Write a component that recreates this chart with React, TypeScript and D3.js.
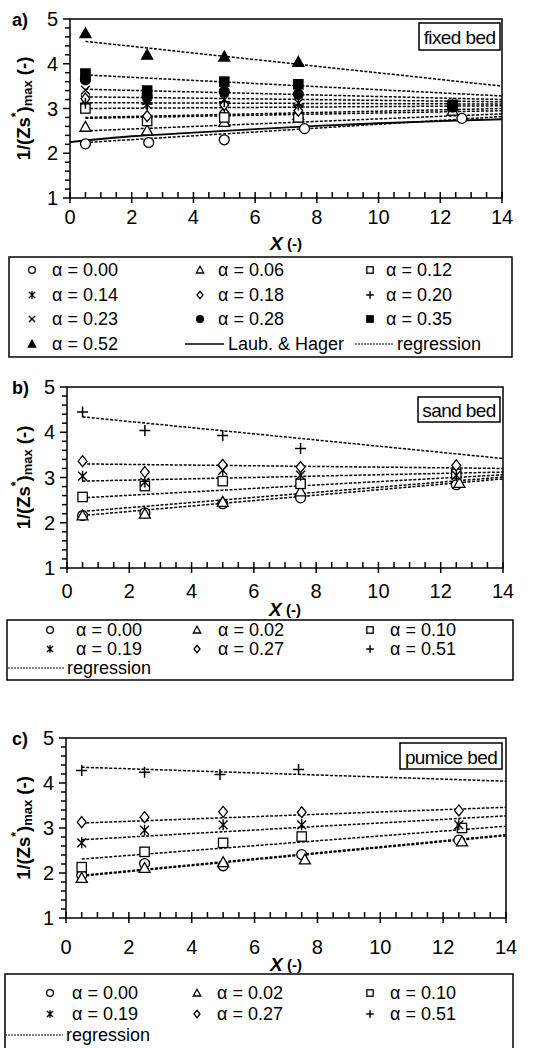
import React from "react";
import * as d3 from "d3";

// ---- data ----
// a) fixed bed
const fixedAlphas = ["0.00", "0.06", "0.12", "0.14", "0.18", "0.20", "0.23", "0.28", "0.35", "0.52"];
const fixedX = [
  [0.5, 2.55, 5, 7.6, 12.7],
  [0.5, 2.5, 5, 7.4, 12.4],
  [0.5, 2.5, 5, 7.4, 12.4],
  [0.5, 2.5, 5, 7.4, 12.4],
  [0.5, 2.5, 5, 7.4],
  [0.5, 2.5, 5, 7.4, 12.4],
  [0.5, 2.5, 5, 7.4],
  [0.5, 2.5, 5, 7.4, 12.4],
  [0.5, 2.5, 5, 7.4, 12.4],
  [0.5, 2.5, 5, 7.4],
];
const fixedY = [
  [2.21, 2.24, 2.3, 2.55, 2.78],
  [2.59, 2.51, 2.7, 2.85, 2.95],
  [3.0, 2.72, 2.8, 2.8, 3.05],
  [3.19, 3.09, 3.02, 2.97, 3.1],
  [3.22, 2.83, 3.08, 2.95],
  [3.12, 3.1, 3.15, 3.08, 3.05],
  [3.41, 3.18, 3.2, 3.12],
  [3.64, 3.27, 3.38, 3.32, 3.03],
  [3.78, 3.4, 3.6, 3.54, 3.08],
  [4.68, 4.2, 4.16, 4.04],
];
const fixedRegStart = [2.24, 2.5, 2.78, 2.8, 3.0, 3.13, 3.26, 3.43, 3.75, 4.5];
const fixedRegEnd = [2.82, 2.88, 2.95, 3.0, 3.06, 3.1, 3.15, 3.2, 3.28, 3.5];
const laubX = [0, 2, 4, 6, 8, 10, 12, 14];
const laubY = [2.25, 2.38, 2.46, 2.54, 2.61, 2.67, 2.72, 2.76];

// b) sand bed
const sandAlphas = ["0.00", "0.02", "0.10", "0.19", "0.27", "0.51"];
const sandX = [
  [0.5, 2.5, 5, 7.5, 12.5],
  [0.5, 2.5, 5, 7.5, 12.6],
  [0.5, 2.5, 5, 7.5, 12.5],
  [0.5, 2.5, 5, 7.5, 12.5],
  [0.5, 2.5, 5, 7.5, 12.5],
  [0.5, 2.5, 5, 7.5],
];
const sandY = [
  [2.16, 2.22, 2.42, 2.55, 2.84],
  [2.16, 2.2, 2.46, 2.69, 2.88],
  [2.57, 2.81, 2.92, 2.86, 3.08],
  [3.03, 2.9, 3.16, 3.05, 3.05],
  [3.36, 3.12, 3.28, 3.23, 3.27],
  [4.45, 4.04, 3.93, 3.64],
];
const sandRegStart = [2.16, 2.25, 2.55, 2.92, 3.3, 4.34];
const sandRegEnd = [2.97, 3.01, 3.06, 3.12, 3.2, 3.42];

// c) pumice bed
const pumiceAlphas = ["0.00", "0.02", "0.10", "0.19", "0.27", "0.51"];
const pumiceX = [
  [0.5, 2.5, 5, 7.5, 12.5],
  [0.5, 2.5, 5, 7.6, 12.6],
  [0.5, 2.5, 5, 7.5, 12.6],
  [0.5, 2.5, 5, 7.5, 12.5],
  [0.5, 2.5, 5, 7.5, 12.5],
  [0.5, 2.5, 4.9, 7.4],
];
const pumiceY = [
  [1.95, 2.21, 2.16, 2.41, 2.73],
  [1.89, 2.11, 2.24, 2.3, 2.7],
  [2.13, 2.47, 2.67, 2.81, 3.0],
  [2.67, 2.95, 3.07, 3.07, 3.07],
  [3.13, 3.24, 3.36, 3.35, 3.39],
  [4.28, 4.24, 4.19, 4.3],
];
const pumiceRegStart = [1.95, 1.93, 2.31, 2.74, 3.11, 4.35];
const pumiceRegEnd = [2.85, 2.83, 3.04, 3.27, 3.46, 4.04];

const xTicks = [0, 2, 4, 6, 8, 10, 12, 14];
const yTicks = [1, 2, 3, 4, 5];

// ---- styling ----
const FONT = "'Liberation Sans', Arial, sans-serif";
const fixedMarkers = ["circle", "triangle", "square", "asterisk", "diamond", "plus", "cross", "circleF", "squareF", "triangleF"];
const bedMarkers = ["circle", "triangle", "square", "asterisk", "diamond", "plus"];

function Marker({ type, x, y, s }: { type: string; x: number; y: number; s: number }) {
  const h = s / 2;
  const sw = 1.3;
  const filled = type.endsWith("F");
  const fill = filled ? "#000" : "#fff";
  if (type.startsWith("circle")) return <circle cx={x} cy={y} r={h * 0.9} fill={fill} stroke="#000" strokeWidth={sw} />;
  if (type.startsWith("square"))
    return <rect x={x - h * 0.85} y={y - h * 0.85} width={h * 1.7} height={h * 1.7} fill={fill} stroke="#000" strokeWidth={sw} />;
  if (type.startsWith("triangle"))
    return (
      <path d={`M${x},${y - h}L${x + h},${y + h * 0.8}L${x - h},${y + h * 0.8}Z`} fill={fill} stroke="#000" strokeWidth={sw} />
    );
  if (type === "diamond")
    return <path d={`M${x},${y - h}L${x + h * 0.8},${y}L${x},${y + h}L${x - h * 0.8},${y}Z`} fill="#fff" stroke="#000" strokeWidth={sw} />;
  if (type === "plus")
    return <path d={`M${x - h},${y}H${x + h}M${x},${y - h}V${y + h}`} stroke="#000" strokeWidth={1.5} />;
  if (type === "cross")
    return <path d={`M${x - h * 0.8},${y - h * 0.8}L${x + h * 0.8},${y + h * 0.8}M${x + h * 0.8},${y - h * 0.8}L${x - h * 0.8},${y + h * 0.8}`} stroke="#000" strokeWidth={1.4} />;
  // asterisk
  return (
    <path
      d={`M${x - h * 0.8},${y - h * 0.8}L${x + h * 0.8},${y + h * 0.8}M${x + h * 0.8},${y - h * 0.8}L${x - h * 0.8},${y + h * 0.8}M${x},${y - h}V${y + h}`}
      stroke="#000"
      strokeWidth={1.4}
    />
  );
}

type PanelProps = {
  left: number;
  right: number;
  top: number;
  bottom: number;
  letter: string;
  bed: string;
  bedBox: [number, number, number, number];
  xs: number[][];
  ys: number[][];
  regStart: number[];
  regEnd: number[];
  markers: string[];
  tickDy: number;
  labelDy: number;
  laub?: boolean;
};

function Panel(p: PanelProps) {
  const x = d3.scaleLinear().domain([0, 14]).range([p.left, p.right]);
  const y = d3.scaleLinear().domain([1, 5]).range([p.bottom, p.top]);
  const line = d3
    .line<[number, number]>()
    .x((d) => x(d[0]))
    .y((d) => y(d[1]));
  const laubLine = d3
    .line<[number, number]>()
    .x((d) => x(d[0]))
    .y((d) => y(d[1]))
    .curve(d3.curveMonotoneX);
  const xMinor = d3.range(0, 14.01, 0.5);
  const yMinor = d3.range(1, 5.01, 0.2);
  const midY = (p.top + p.bottom) / 2;
  const midX = (p.left + p.right) / 2;
  return (
    <g>
      {/* regression lines */}
      {p.regStart.map((s, i) => (
        <path
          key={"r" + i}
          d={line([
            [0.5, s],
            [14, p.regEnd[i]],
          ]) as string}
          fill="none"
          stroke="#000"
          strokeWidth={1.5}
          strokeDasharray="3 1.6"
        />
      ))}
      {p.laub && (
        <path
          d={laubLine(laubX.map((v, i) => [v, laubY[i]] as [number, number])) as string}
          fill="none"
          stroke="#000"
          strokeWidth={1.8}
        />
      )}
      {/* data points */}
      {p.xs.map((row, i) =>
        row.map((v, j) => <Marker key={`m${i}-${j}`} type={p.markers[i]} x={x(v)} y={y(p.ys[i][j])} s={11} />)
      )}
      {/* frame */}
      <rect x={p.left} y={p.top} width={p.right - p.left} height={p.bottom - p.top} fill="none" stroke="#000" strokeWidth={1.5} />
      {/* x ticks */}
      {xMinor.map((v) => {
        const major = Math.abs(v % 2) < 1e-6;
        return (
          <line
            key={"xt" + v}
            x1={x(v)}
            x2={x(v)}
            y1={major ? p.bottom + 5 : p.bottom}
            y2={p.bottom - 6}
            stroke="#000"
            strokeWidth={1.5}
          />
        );
      })}
      {yMinor.map((v, i) => {
        const major = i % 5 === 0;
        return (
          <line key={"yt" + i} x1={p.left - (major ? 7 : 5)} x2={p.left} y1={y(v)} y2={y(v)} stroke="#000" strokeWidth={1.5} />
        );
      })}
      {xTicks.map((v) => (
        <text key={"xl" + v} x={x(v)} y={p.bottom + p.tickDy} textAnchor="middle" dominantBaseline="central" fontSize={20} fontFamily={FONT}>
          {v}
        </text>
      ))}
      {yTicks.map((v) => (
        <text key={"yl" + v} x={p.left - 12} y={y(v)} textAnchor="end" dominantBaseline="central" fontSize={20} fontFamily={FONT}>
          {v}
        </text>
      ))}
      {/* axis titles */}
      <text x={midX} y={p.bottom + p.labelDy} textAnchor="middle" dominantBaseline="central" fontSize={19} fontWeight="bold" fontFamily={FONT}>
        <tspan fontStyle="italic">X</tspan>
        <tspan fontSize={15}> (-)</tspan>
      </text>
      <text
        transform={`translate(23,${midY}) rotate(-90)`}
        textAnchor="middle"
        dominantBaseline="central"
        fontSize={18.5}
        fontWeight="bold"
        fontFamily={FONT}
      >
        1/(Zs
        <tspan fontSize={12} dy={-7}>*</tspan>
        <tspan dy={7}>)</tspan>
        <tspan fontSize={13} dy={4}>max</tspan>
        <tspan dy={-4}> (-)</tspan>
      </text>
      <text x={12} y={p.top + 1} dominantBaseline="central" fontSize={18} fontWeight="bold" fontFamily={FONT}>
        {p.letter}
      </text>
      {/* bed label box */}
      <rect x={p.bedBox[0]} y={p.bedBox[1]} width={p.bedBox[2]} height={p.bedBox[3]} fill="#fff" stroke="#000" strokeWidth={1.5} />
      <text
        x={p.bedBox[0] + p.bedBox[2] / 2}
        y={p.bedBox[1] + p.bedBox[3] / 2 + 1}
        textAnchor="middle"
        dominantBaseline="central"
        fontSize={19}
        letterSpacing={-0.6}
        fontFamily={FONT}
      >
        {p.bed}
      </text>
    </g>
  );
}

type LegendProps = {
  box: [number, number, number, number];
  alphas: string[];
  markers: string[];
  rows: number[];
  markerX: number[];
  textX: number[];
  children?: React.ReactNode;
};

function Legend(l: LegendProps) {
  return (
    <g>
      <rect x={l.box[0]} y={l.box[1]} width={l.box[2]} height={l.box[3]} fill="#fff" stroke="#000" strokeWidth={1.5} />
      {l.alphas.map((a, i) => {
        const r = Math.floor(i / 3);
        const c = i % 3;
        return (
          <g key={"lg" + i}>
            <Marker type={l.markers[i]} x={l.markerX[c]} y={l.rows[r]} s={7.5} />
            <text x={l.textX[c]} y={l.rows[r]} dominantBaseline="central" fontSize={18} fontFamily={FONT}>
              {"α = " + a}
            </text>
          </g>
        );
      })}
      {l.children}
    </g>
  );
}

export default function App() {
  const legText = { dominantBaseline: "central" as const, fontSize: 18, fontFamily: FONT };
  return (
    <svg width={553} height={1048} style={{ position: "absolute", left: 0, top: 0, background: "#fff" }}>
      <Panel
        left={70}
        right={502}
        top={19}
        bottom={198}
        letter="a)"
        bed="fixed bed"
        bedBox={[419, 23, 81, 27]}
        xs={fixedX}
        ys={fixedY}
        regStart={fixedRegStart}
        regEnd={fixedRegEnd}
        markers={fixedMarkers}
        tickDy={19}
        labelDy={45}
        laub
      />
      <Legend
        box={[9, 257, 503, 100]}
        alphas={fixedAlphas}
        markers={fixedMarkers}
        rows={[270, 295, 319, 344]}
        markerX={[32, 200, 370]}
        textX={[52, 218, 386]}
      >
        <line x1={185} x2={224} y1={344} y2={344} stroke="#000" strokeWidth={1.5} />
        <text x={228} y={344} {...legText}>
          Laub. &amp; Hager
        </text>
        <line x1={355} x2={394} y1={344} y2={344} stroke="#000" strokeWidth={1.2} strokeDasharray="2 1" />
        <text x={397} y={344} {...legText}>
          regression
        </text>
      </Legend>

      <Panel
        left={67}
        right={503}
        top={387}
        bottom={568}
        letter="b)"
        bed="sand bed"
        bedBox={[418, 397, 82, 25]}
        xs={sandX}
        ys={sandY}
        regStart={sandRegStart}
        regEnd={sandRegEnd}
        markers={bedMarkers}
        tickDy={23}
        labelDy={41}
      />
      <Legend
        box={[7, 620, 506, 60]}
        alphas={sandAlphas}
        markers={bedMarkers}
        rows={[630, 649, 668]}
        markerX={[50, 197, 370]}
        textX={[76, 218, 390]}
      >
        <line x1={8} x2={65} y1={668} y2={668} stroke="#000" strokeWidth={1.2} strokeDasharray="2 1" />
        <text x={67} y={668} {...legText}>
          regression
        </text>
      </Legend>

      <Panel
        left={66}
        right={506}
        top={738}
        bottom={918}
        letter="c)"
        bed="pumice bed"
        bedBox={[400, 743, 102, 26]}
        xs={pumiceX}
        ys={pumiceY}
        regStart={pumiceRegStart}
        regEnd={pumiceRegEnd}
        markers={bedMarkers}
        tickDy={29}
        labelDy={46}
      />
      <Legend
        box={[5, 974, 508, 90]}
        alphas={pumiceAlphas}
        markers={bedMarkers}
        rows={[993, 1014, 1035]}
        markerX={[50, 197, 370]}
        textX={[72, 217, 390]}
      >
        <line x1={5} x2={63} y1={1035} y2={1035} stroke="#000" strokeWidth={1.2} strokeDasharray="2 1" />
        <text x={66} y={1035} {...legText}>
          regression
        </text>
      </Legend>
    </svg>
  );
}
